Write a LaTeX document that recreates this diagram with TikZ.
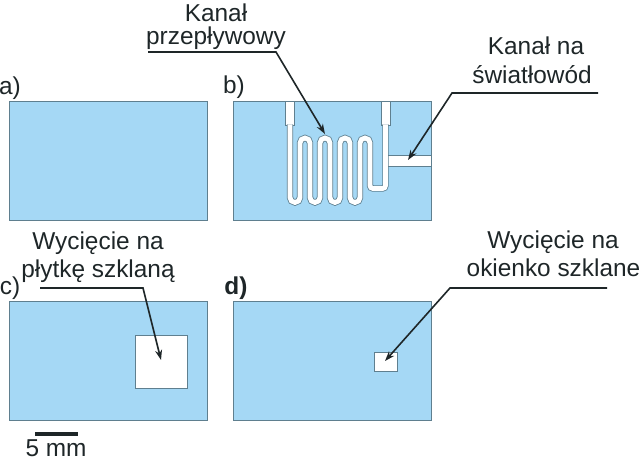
\documentclass[tikz,border=0pt]{standalone}
\usepackage{fontspec}
\setmainfont{Liberation Sans}
\usetikzlibrary{arrows.meta}
\definecolor{plateblue}{HTML}{A5D8F5}
\definecolor{edgegray}{HTML}{5F7F8F}
\definecolor{inkdark}{HTML}{1E2628}
\tikzstyle{plate}=[rectangle,draw=edgegray,fill=plateblue,line width=0.9,inner sep=0,minimum width=198,minimum height=119]
\tikzstyle{cut}=[rectangle,draw=edgegray,fill=white,line width=0.8,inner sep=0]
\tikzstyle{lab}=[inner sep=0,anchor=base,text=inkdark,align=center,font=\fontsize{24.4}{28}\selectfont]
\tikzstyle{channel}=[draw=edgegray,double=white,double distance=4.8,line width=0.8]
\tikzstyle{leader}=[draw=inkdark,line width=1.6,-{Stealth[length=10,width=7]}]
\begin{document}
\begin{tikzpicture}[x=1pt,y=1pt]
      \useasboundingbox (0,0) rectangle (640,461);
      % plates
      \node[plate] at (108,300.5) (pa) {};
      \node[plate] at (332,300.5) (pb) {};
      \node[plate] at (108,100) (pc) {};
      \node[plate] at (332,100) (pd) {};
      % ports and channels in b
      \node[cut, minimum width=9, minimum height=24] at (290,348) (portl) {};
      \node[cut, minimum width=9, minimum height=24] at (385.5,348) (portr) {};
      \node[cut, minimum width=45, minimum height=10.5] at (408.5,300) (branch) {};
      \draw[channel] (290,336.5) -- (290,263.5)
        foreach \k in {0,20,40} {
          arc (180:360:5) -- (300+\k,318) arc (180:0:5) -- (310+\k,263.5)
        } arc (180:360:5) -- (360,318) arc (180:0:5)
        [rounded corners=3] -- (370,272.5) -- (385.5,272.5) -- (385.5,336.5);
      % cut-outs
      \node[cut, minimum width=52, minimum height=53] at (161,99.5) (glassc) {};
      \node[cut, minimum width=23, minimum height=19] at (385.5,99.5) (glassd) {};
      % labels
      \node[lab] at (10,366) (la) {a)};
      \node[lab] at (234,367) (lb) {b)};
      \node[lab] at (10,166) (lc) {c)};
      \node[lab] at (236,166) (ld) {\bfseries d)};
      \node[lab] at (216,439.5) (t1a) {Kanał};
      \node[lab] at (216,416) (t1b) {przepływowy};
      \node[lab] at (536,406) (t2a) {Kanał na};
      \node[lab] at (532,377) (t2b) {światłowód};
      \node[lab] at (98,211) (t3a) {Wycięcie na};
      \node[lab] at (98,183) (t3b) {płytkę szklaną};
      \node[lab] at (553,212) (t4a) {Wycięcie na};
      \node[lab] at (553.5,184) (t4b) {okienko szklane};
      \node[lab] at (56,5) (scale) {5 mm};
      % leaders
      \coordinate (u1a) at (148,409);
      \coordinate (u1b) at (276,409);
      \coordinate (tip1) at (325,327);
      \coordinate (u2a) at (598,368);
      \coordinate (u2b) at (452,368);
      \coordinate (tip2) at (408,301);
      \coordinate (u3a) at (40,173);
      \coordinate (u3b) at (143,173);
      \coordinate (tip3) at (161,101);
      \coordinate (u4a) at (607,173);
      \coordinate (u4b) at (450,173);
      \coordinate (tip4) at (385,100);
      \draw[leader] (u1a) -- (u1b) -- (tip1);
      \draw[leader] (u2a) -- (u2b) -- (tip2);
      \draw[leader] (u3a) -- (u3b) -- (tip3);
      \draw[leader] (u4a) -- (u4b) -- (tip4);
      % scale bar
      \coordinate (bara) at (35,27);
      \coordinate (barb) at (78,27);
      \draw[inkdark, line width=4] (bara) -- (barb);
    \end{tikzpicture}
\end{document}
